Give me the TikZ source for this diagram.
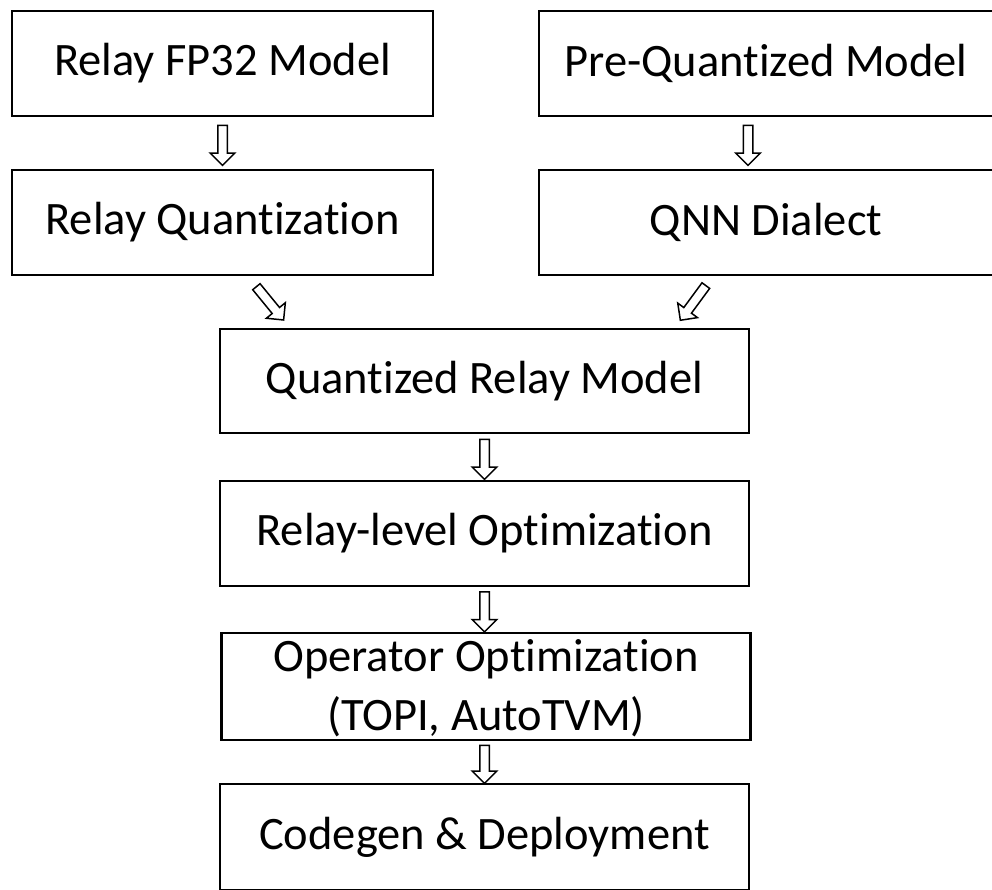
\documentclass[tikz,border=0pt]{standalone}
\usepackage{fontspec}
\setmainfont{Carlito}[RawFeature={-liga;-clig;-dlig}]
\usetikzlibrary{shapes.arrows}
\begin{document}
\begin{tikzpicture}[x=1pt,y=-1pt,
  txt/.style={inner sep=0pt, font=\fontsize{46.5}{54}\selectfont, align=center},
  box/.style={draw, line width=2.5pt, rectangle, inner sep=0pt,
    font=\fontsize{46.5}{54}\selectfont, align=center},
  blockarrow/.style={single arrow, draw, line width=1.5pt, fill=white,
    minimum width=23pt, single arrow head extend=7.5pt,
    single arrow head indent=0pt, inner xsep=0pt, inner ysep=4pt,
    minimum height=#1, sloped, allow upside down, midway},
  blockarrow/.default=40pt]
\useasboundingbox (0,0) rectangle (992,889);
\clip (0,0) rectangle (992,889);
\node[box, minimum width=421pt, minimum height=105pt] (b1) at (222.5,63.5) {Relay FP32 Model};
\node[box, minimum width=421pt, minimum height=105pt] (b3) at (222.5,222.5) {Relay Quantization};
\node[box, minimum width=454pt, minimum height=105pt] (b2) at (766,63.5) {Pre-Quantized Model};
\node[box, minimum width=454pt, minimum height=105pt] (b4) at (766,222.5) {QNN Dialect};
\node[box, minimum width=529pt, minimum height=104pt] (b5) at (484.5,381) {Quantized Relay Model};
\node[box, minimum width=529pt, minimum height=105pt] (b6) at (484.5,533.5) {Relay-level Optimization};
\node[box, minimum width=529pt, minimum height=107pt] (b7) at (486,686.5) {};
\node[txt, yshift=-2pt] (t7) at (b7.center) {Operator Optimization\\[5pt](TOPI, AutoTVM)};
\node[box, minimum width=529pt, minimum height=106pt] (b8) at (484.5,837) {Codegen \& Deployment};
\coordinate (d1s) at (255,285);
\coordinate (d1e) at (282,318);
\coordinate (d2s) at (707,284);
\coordinate (d2e) at (682,318);
\path (b1.south) -- (b3.north) node[blockarrow=40pt] (a1) {};
\path ([xshift=-18pt]b2.south) -- ([xshift=-18pt]b4.north) node[blockarrow=40pt] (a2) {};
\path (d1s) -- (d1e) node[blockarrow=43pt] (a3) {};
\path (d2s) -- (d2e) node[blockarrow=43pt] (a4) {};
\path (b5.south) -- (b6.north) node[blockarrow=40pt] (a5) {};
\path (b6.south) -- ([xshift=-1.5pt]b7.north) node[blockarrow=40pt] (a6) {};
\path ([xshift=-1.5pt]b7.south) -- (b8.north) node[blockarrow=38pt] (a7) {};
\end{tikzpicture}
\end{document}
